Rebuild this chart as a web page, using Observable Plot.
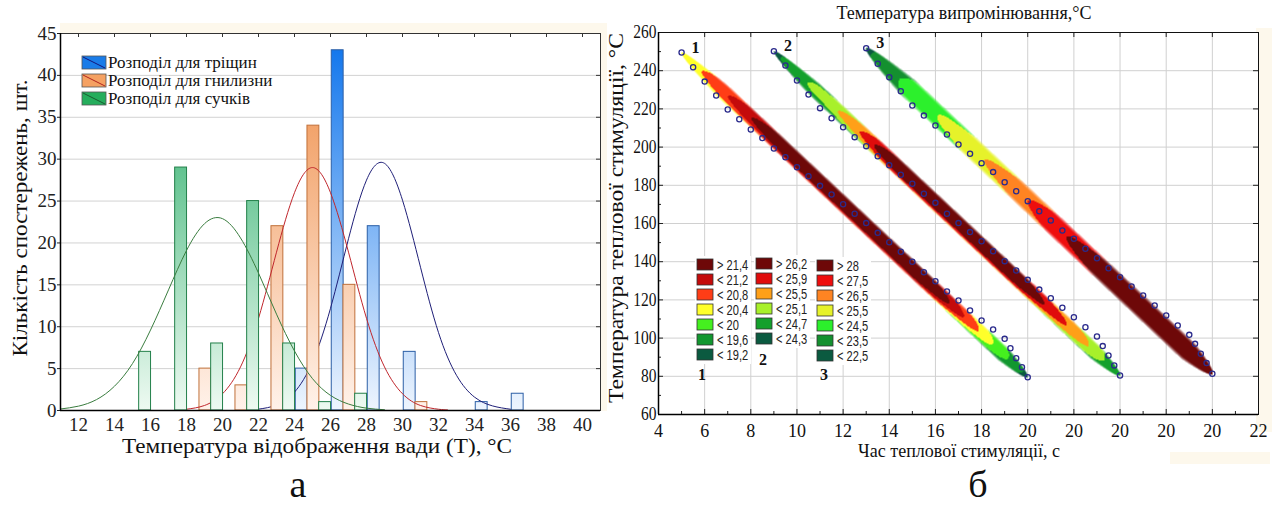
<!DOCTYPE html>
<html><head><meta charset="utf-8">
<script src="https://cdn.jsdelivr.net/npm/d3@7"></script>
<script src="https://cdn.jsdelivr.net/npm/@observablehq/plot@0.6"></script>
<style>
html,body{margin:0;padding:0;background:#fff;}
#wrap{position:relative;width:1279px;height:505px;overflow:hidden;background:#fff;}
#wrap > svg{position:absolute;top:0;}
</style></head>
<body><div id="wrap"></div>
<script>
// ================= Panel (а): histograms of defect temperatures =================
const tempTicks = [12,14,16,18,20,22,24,26,28,30,32,34,36,38,40];
const countTicks = [0,5,10,15,20,25,30,35,40,45];
const crackBins = [24.4,26.4,28.4,30.4,34.4,36.4];
const crackCounts = [5,43,22,7,1,2];
const rotBins = [19.05,21.05,23.05,25.05,27.05,31.05];
const rotCounts = [5,3,22,34,15,1];
const knotBins = [15.7,17.7,19.7,21.7,23.7,25.7,27.7];
const knotCounts = [7,29,8,25,8,1,2];
const crackFitX = [22,23,24,25,26,27,28,29,30,31,32,33,34,35,36];
const crackFitY = [0.16,0.65,2.2,5.8,12.2,20.5,27.5,29.5,25.1,17.1,9.3,4.2,1.6,0.55,0.15];
const rotFitX = [18,19,20,21,22,23,24,25,26,27,28,29,30,31,32,32.5];
const rotFitY = [0.15,0.6,2.0,5.2,11.0,18.9,26.0,29.0,26.0,18.9,11.0,5.2,2.0,0.6,0.15,0.07];
const knotFitX = [11,12,13,14,15,16,17,18,19,20,21,22,23,24,25,26,27,28,29];
const knotFitY = [0.18,0.52,1.3,2.9,5.6,9.6,14.4,19.1,22.3,22.9,20.6,16.4,11.5,7.1,3.8,1.8,0.77,0.28,0.09];
const legendA = ["Розподіл для тріщин","Розподіл для гнилизни","Розподіл для сучків"];

// ================= Panel (б): stimulation temperature vs time =================
const timeTicks = [4,6,8,10,12,14,16,18,20,22,24,26,28,30];
const timeTickLabels = ["4","6","8","10","12","14","16","18","20","20","20","20","20","22"];
const timeMinor = [5,7,9,11,13,15,17,19,21,23,25,27,29];
const stimTicks = [60,80,100,120,140,160,180,200,220,240,260];
const stimMinor = [70,90,110,130,150,170,190,210,230,250];
const seriesLabels = ["1","2","3"];

const s1Time = [5,5.5,6,6.5,7,7.5,8,8.5,9,9.5,10,10.5,11,11.5,12,12.5,13,13.5,14,14.5,15,15.5,16,16.5,17,17.5,18,18.5,19,19.25,19.5,19.75,20];
const s1Temp = [249.5,241.8,234.3,227,219.7,214.6,209.2,204.7,199.3,194.7,189.5,184.8,179.7,175.2,170.1,165.1,160.2,155.1,150.2,145.2,140,134.5,129.8,124.4,119.7,114.5,109.2,104.5,99.6,94.7,89.5,84.8,79.5];
const s1Emis = [20.1,20.3,20.5,20.7,20.9,21.1,21.3,21.5,21.7,21.8,21.8,21.8,21.8,21.8,21.8,21.8,21.8,21.8,21.8,21.8,21.8,21.8,21.6,21.4,21.1,20.8,20.5,20.2,19.9,19.7,19.5,19.3,19.0];

const s2Time = [9,9.5,10,10.5,11,11.5,12,12.5,13,13.5,14,14.5,15,15.5,16,16.5,17,17.5,18,18.5,19,19.5,20,20.5,21,21.5,22,22.5,23,23.25,23.5,23.75,24];
const s2Temp = [250.2,242.7,234.9,227.5,220.4,215.1,210.4,205.2,200.5,195.2,190.5,185.5,180.8,175.6,170.8,165.1,160.2,155.5,150.7,145.5,140.3,135.4,130.5,125.4,120.9,115.9,110.9,105.7,100.8,95.8,90.9,85.7,80.4];
const s2Emis = [24.2,24.4,24.6,24.8,24.9,25.1,25.3,25.5,25.8,26.1,26.3,26.4,26.4,26.4,26.4,26.4,26.4,26.4,26.4,26.4,26.4,26.4,26.3,26.1,25.9,25.7,25.5,25.3,25.1,24.9,24.7,24.5,24.3];

const s3Time = [13,13.5,14,14.5,15,15.5,16,16.5,17,17.5,18,18.5,19,19.5,20,20.5,21,21.5,22,22.5,23,23.5,24,24.5,25,25.5,26,26.5,27,27.25,27.5,27.75,28];
const s3Temp = [251.8,243.6,236.6,229.3,221.8,216.5,211.3,206.6,201.4,196.5,191.6,186.9,181.6,176.9,171.7,166.4,161.6,156.3,152.0,146.8,141.8,136.6,131.9,127.0,122.3,117.1,111.8,106.6,101.7,97.0,91.8,86.9,81.3];
const s3Emis = [22.3,22.8,23.3,23.7,24.0,24.3,24.6,24.8,25.0,25.3,25.5,25.7,25.9,26.2,26.5,26.8,27.1,27.4,27.6,27.8,28.0,28.2,28.3,28.4,28.4,28.4,28.4,28.4,28.4,28.4,28.4,28.3,28.3];

// emission-temperature classes (ascending) and their legend labels (descending)
const s1Breaks = [19.2,19.6,20.0,20.4,20.8,21.2];
const s1Colors = ["#0b5a40","#12972f","#45f01f","#ffff2a","#ff3d16","#c40b0b","#6e0808"];
const s1Legend = ["> 21,4","< 21,2","< 20,8","< 20,4","< 20","< 19,6","< 19,2"];
const s2Breaks = [24.3,24.7,25.1,25.5,25.9];
const s2Colors = ["#0b5a40","#14a02c","#a8f02a","#ffa018","#e00c0c","#6e0808"];
const s2Legend = ["> 26,2","< 25,9","< 25,5","< 25,1","< 24,7","< 24,3"];
const s3Breaks = [22.5,23.5,24.5,25.5,26.5,27.5];
const s3Colors = ["#0b5a40","#14902f","#2cf02c","#e6f22a","#ff8422","#ee0e0e","#6e0808"];
const s3Legend = ["> 28","< 27,5","< 26,5","< 25,5","< 24,5","< 23,5","< 22,5"];

// ================= layout =================
const wrap = document.getElementById("wrap");
const serif = "'Liberation Serif','Times New Roman',serif";
const cream = "#fdf8ec";
const NS = "http://www.w3.org/2000/svg";

const bg = d3.create("svg").attr("width",1279).attr("height",505).style("left","0px");
bg.append("rect").attr("x",60).attr("y",23).attr("width",547).attr("height",388).attr("fill",cream);
bg.append("rect").attr("x",1256).attr("y",28).attr("width",16).attr("height",404).attr("fill",cream);
bg.append("rect").attr("x",1170).attr("y",452).attr("width",100).attr("height",12).attr("fill",cream);
wrap.appendChild(bg.node());

// ---------- Panel (а) ----------
const LW = 620, LH = 470, Lt = 33, Lr = 20, Lb = 60, Ll = 60;
const LPW = LW - Ll - Lr, LPH = LH - Lt - Lb;
const BW = 0.66;
const barOpts = (bins) => ({x1: bins.map(c => c - BW/2), x2: bins.map(c => c + BW/2), y1: 0});
const left = Plot.plot({
  width: LW, height: LH, marginTop: Lt, marginRight: Lr, marginBottom: Lb, marginLeft: Ll,
  x: {domain: [11, 41]}, y: {domain: [0, 45]},
  style: {fontFamily: serif, fontSize: "19px", color: "#222", background: "transparent"},
  marks: [
    Plot.frame({fill: "white", stroke: "none"}),
    Plot.gridY(countTicks, {stroke: "#d2d2d2", strokeOpacity: 1}),
    Plot.rect(crackCounts, {...barOpts(crackBins), y2: crackCounts, fill: "url(#gBlue)", stroke: "#2c5fa6", strokeWidth: 1}),
    Plot.line(crackFitY, {x: crackFitX, y: crackFitY, curve: "natural", stroke: "#1f1f78", strokeWidth: 1}),
    Plot.rect(rotCounts, {...barOpts(rotBins), y2: rotCounts, fill: "url(#gOrange)", stroke: "#c0703a", strokeWidth: 1}),
    Plot.line(rotFitY, {x: rotFitX, y: rotFitY, curve: "natural", stroke: "#c0262c", strokeWidth: 1}),
    Plot.rect(knotCounts, {...barOpts(knotBins), y2: knotCounts, fill: "url(#gGreen)", stroke: "#23804a", strokeWidth: 1}),
    Plot.line(knotFitY, {x: knotFitX, y: knotFitY, curve: "natural", stroke: "#3a7d3f", strokeWidth: 1}),
    Plot.tickX(tempTicks, {x: d => d, insetBottom: LPH - 4, stroke: "#333"}),
    Plot.tickY(countTicks, {y: d => d, insetLeft: LPW - 4, stroke: "#333"}),
    Plot.axisX(tempTicks, {tickSize: 0, tickPadding: 7, label: null, fontFamily: serif, fontSize: 19}),
    Plot.axisY(countTicks, {tickSize: 3, tickPadding: 1, label: null, fontFamily: serif, fontSize: 19}),
    Plot.frame({stroke: "#333"}),
    Plot.ruleX([11], {stroke: "#000", strokeWidth: 1.5}),
    Plot.ruleY([0], {stroke: "#000", strokeWidth: 1.5})
  ]
});
left.style.left = "0px";
{
  const ys = left.scale("y");
  const top = ys.apply(45), bot = ys.apply(0);
  const defs = document.createElementNS(NS, "defs");
  const grad = (id, c0, c1) => `<linearGradient id="${id}" gradientUnits="userSpaceOnUse" x1="0" x2="0" y1="${top}" y2="${bot}"><stop offset="0" stop-color="${c0}"/><stop offset="1" stop-color="${c1}"/></linearGradient>`;
  defs.innerHTML = grad("gBlue", "#0a72ec", "#eef5fe") + grad("gOrange", "#ee8a42", "#fff2ea") + grad("gGreen", "#15a55a", "#eefaf2");
  left.insertBefore(defs, left.firstChild);
}
wrap.appendChild(left);

// ---------- Panel (б) ----------
const RW = 679, RH = 470, Rt = 32, Rr = 21, Rb = 56, Rl = 58;
const RPW = RW - Rl - Rr, RPH = RH - Rt - Rb;
const xDomR = [4, 30], yDomR = [60, 260];
const kx = RPW / (xDomR[1] - xDomR[0]), ky = RPH / (yDomR[1] - yDomR[0]);

function makeBand(time, temp, emis, breaks, colors, halfW, dropUp, dropDown) {
  const n = time.length;
  const ax = time[0] * kx, ay = -temp[0] * ky;
  const vx = time[n-1] * kx - ax, vy = -temp[n-1] * ky - ay;
  const L2 = vx*vx + vy*vy, L = Math.sqrt(L2);
  const us = time.map((t, i) => ((t*kx - ax) * vx + (-temp[i]*ky - ay) * vy) / L2);
  const order = d3.range(n).sort((a, b) => us[a] - us[b]);
  const core = d3.scaleLinear().domain(order.map(i => us[i])).range(order.map(i => emis[i])).clamp(true);
  const cls = d3.scaleThreshold().domain(breaks).range(colors);
  const geom = (x, y) => {
    const X = x*kx - ax, Y = -y*ky - ay;
    const s = (X*vx + Y*vy) / L2;
    if (s <= 0 || s >= 1) return null;
    const w = halfW * Math.min(1, Math.sqrt(s / 0.12), Math.sqrt((1 - s) / 0.07));
    const r = ((X*vy - Y*vx) / L) / w;
    if (Math.abs(r) > 1) return null;
    return {s, r};
  };
  return {
    color(x, y) {
      const g = geom(x, y);
      if (!g) return null;
      const f = Math.min(1, g.s / 0.25, (1 - g.s) / 0.2);
      const T = core(g.s) - f * (g.r > 0 ? dropUp : dropDown) * g.r * g.r;
      return cls(T);
    },
    alpha(x, y) {
      const g = geom(x, y);
      if (!g) return 0;
      const a = Math.abs(g.r);
      return a < 0.7 ? 1 : 1 - 0.8 * Math.pow((a - 0.7) / 0.3, 1.4);
    }
  };
}
const bands = [
  makeBand(s1Time, s1Temp, s1Emis, s1Breaks, s1Colors, 8, 0.5, 1.3),
  makeBand(s2Time, s2Temp, s2Emis, s2Breaks, s2Colors, 8, 0.5, 1.2),
  makeBand(s3Time, s3Temp, s3Emis, s3Breaks, s3Colors, 10.5, 0.7, 0.7)
];
const bandFill = (x, y) => { for (const b of bands) { const c = b.color(x, y); if (c != null) return c; } return null; };
const bandAlpha = (x, y) => { for (const b of bands) { const a = b.alpha(x, y); if (a > 0) return a; } return 0; };

const pts = [];
[[s1Time, s1Temp], [s2Time, s2Temp], [s3Time, s3Temp]].forEach(([tt, vv], k) =>
  tt.forEach((t, i) => pts.push({t, v: vv[i], s: k})));
const firsts = [[s1Time, s1Temp], [s2Time, s2Temp], [s3Time, s3Temp]].map(([tt, vv], k) => ({t: tt[0], v: vv[0], label: seriesLabels[k]}));
const tickLabel = new Map(timeTicks.map((t, i) => [t, timeTickLabels[i]]));

const right = Plot.plot({
  width: RW, height: RH, marginTop: Rt, marginRight: Rr, marginBottom: Rb, marginLeft: Rl,
  x: {domain: xDomR}, y: {domain: yDomR},
  color: {type: "identity"}, opacity: {type: "identity"},
  style: {fontFamily: serif, fontSize: "18px", color: "#111", background: "transparent"},
  marks: [
    Plot.frame({fill: "white", stroke: "none"}),
    Plot.gridX(timeTicks, {stroke: "#d0d0d0", strokeOpacity: 1}),
    Plot.gridY(stimTicks, {stroke: "#d0d0d0", strokeOpacity: 1}),
    Plot.raster({fill: bandFill, fillOpacity: bandAlpha, x1: xDomR[0], x2: xDomR[1], y1: yDomR[0], y2: yDomR[1], pixelSize: 1}),
    Plot.dot(pts, {x: "t", y: "v", r: 2.6, stroke: "#2b2b8c", strokeWidth: 1.3, fill: "none"}),
    Plot.text(firsts, {x: "t", y: "v", text: "label", dx: 14, dy: -5, fontWeight: "bold", fontSize: 16, fill: "#111", fontFamily: serif}),
    Plot.tickX(timeTicks, {x: d => d, insetTop: RPH - 5, stroke: "#222"}),
    Plot.tickX(timeMinor, {x: d => d, insetTop: RPH - 3, stroke: "#222"}),
    Plot.tickX(timeTicks, {x: d => d, insetBottom: RPH - 5, stroke: "#222"}),
    Plot.tickY(stimTicks, {y: d => d, insetRight: RPW - 5, stroke: "#222"}),
    Plot.tickY(stimMinor, {y: d => d, insetRight: RPW - 3, stroke: "#222"}),
    Plot.tickY(stimTicks, {y: d => d, insetLeft: RPW - 5, stroke: "#222"}),
    Plot.axisX(timeTicks, {tickSize: 0, tickPadding: 10, label: null, tickFormat: d => tickLabel.get(d), fontFamily: serif, fontSize: 18}),
    Plot.axisY(stimTicks, {tickSize: 0, tickPadding: 2, label: null, fontFamily: serif, fontSize: 18}),
    Plot.frame({stroke: "#111"}),
    Plot.ruleX([xDomR[0]], {stroke: "#000", strokeWidth: 1.5}),
    Plot.ruleY([yDomR[0]], {stroke: "#000", strokeWidth: 1.5})
  ]
});
right.style.left = "600px";
wrap.appendChild(right);
right.querySelectorAll('g[aria-label="y-axis tick label"] text').forEach(t => {
  const l = t.getComputedTextLength();
  t.setAttribute("textLength", (l * 0.86).toFixed(1));
  t.setAttribute("lengthAdjust", "spacingAndGlyphs");
});

// ---------- overlay: titles, legends, panel letters ----------
const ov = d3.create("svg").attr("width",1279).attr("height",505).style("left","0px").style("pointer-events","none");
function txt(x, y, s, size, o = {}) {
  const t = ov.append("text").attr("x", x).attr("y", y).text(s)
    .attr("font-family", o.family || serif).attr("font-size", size)
    .attr("fill", o.fill || "#111").attr("text-anchor", o.anchor || "middle");
  if (o.weight) t.attr("font-weight", o.weight);
  if (o.len) t.attr("textLength", o.len).attr("lengthAdjust", "spacingAndGlyphs");
  if (o.rotate) t.attr("transform", `rotate(${o.rotate},${x},${y})`);
  return t;
}
txt(27, 218, "Кількість спостережень, шт.", 21, {rotate: -90, len: 277});
txt(317, 453, "Температура відображення вади (Т), °С", 21, {len: 390});
txt(298, 497, "а", 38);
const legFill = ["#1a7ce8", "#f5a162", "#25ad5c"];
const legLine = ["#14147a", "#b0231f", "#1a5a30"];
legendA.forEach((s, i) => {
  const y0 = 56 + i * 18;
  ov.append("rect").attr("x", 82).attr("y", y0).attr("width", 24).attr("height", 13)
    .attr("fill", legFill[i]).attr("stroke", "#555").attr("stroke-width", 0.8);
  ov.append("line").attr("x1", 83).attr("y1", y0 + 1).attr("x2", 105).attr("y2", y0 + 12)
    .attr("stroke", legLine[i]).attr("stroke-width", 1);
  txt(108, y0 + 12, s, 17, {anchor: "start"});
});
txt(964, 19, "Температура випромінювання,°С", 18, {len: 255});
txt(623, 218, "Температура теплової стимуляції, °С", 21, {rotate: -90, len: 370});
txt(959, 457, "Час теплової стимуляції, с", 19, {len: 202});
txt(978, 497, "б", 38);
const cols = [
  {x: 697, y: 259, labels: s1Legend, colors: s1Colors.slice().reverse(), name: seriesLabels[0], nx: 702, ny: 380},
  {x: 756, y: 258, labels: s2Legend, colors: s2Colors.slice().reverse(), name: seriesLabels[1], nx: 763, ny: 365},
  {x: 817, y: 260, labels: s3Legend, colors: s3Colors.slice().reverse(), name: seriesLabels[2], nx: 824, ny: 380}
];
cols.forEach(c => {
  ov.append("rect").attr("x", c.x - 2).attr("y", c.y - 3).attr("width", 56).attr("height", c.labels.length * 15 + 3).attr("fill", "white");
  c.labels.forEach((lab, i) => {
    const y0 = c.y + i * 15;
    ov.append("rect").attr("x", c.x).attr("y", y0).attr("width", 16).attr("height", 11)
      .attr("fill", c.colors[i]).attr("stroke", "#333").attr("stroke-width", 0.8);
    const g = ov.append("g").attr("transform", `translate(${c.x + 20},${y0 + 11}) scale(0.74,1)`);
    g.append("text").attr("x", 0).attr("y", 0).text(lab).attr("font-family", "'Liberation Sans',Arial,sans-serif")
      .attr("font-size", 15).attr("fill", "#222");
  });
  txt(c.nx, c.ny, c.name, 16, {weight: "bold"});
});
wrap.appendChild(ov.node());
</script>
</body></html>
